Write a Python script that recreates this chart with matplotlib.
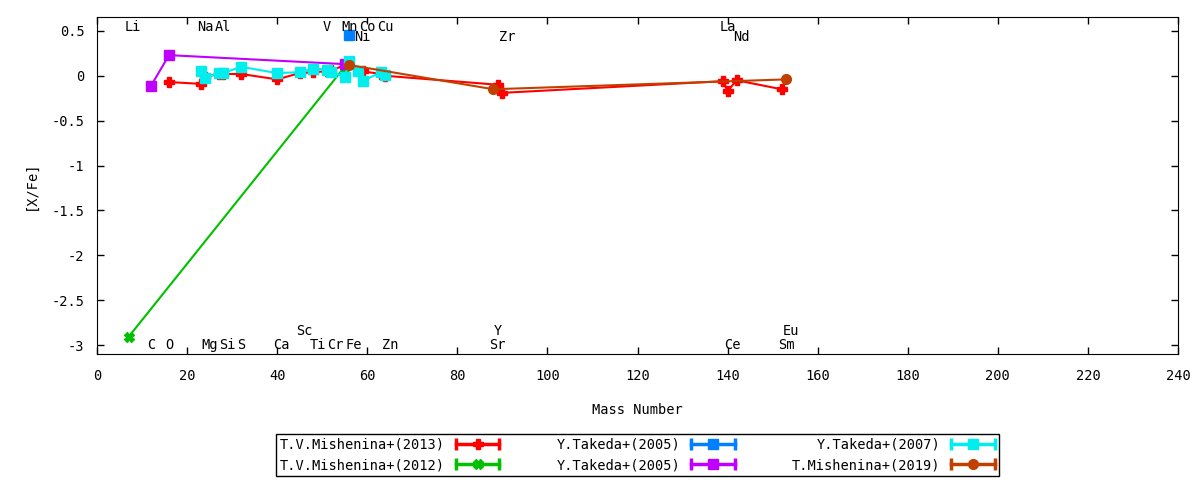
import matplotlib
matplotlib.use("Agg")
import matplotlib.pyplot as plt
from matplotlib.lines import Line2D
from matplotlib.legend_handler import HandlerTuple, HandlerLine2D

plt.rcParams["font.family"] = ["DejaVu Sans Mono"]
plt.rcParams["font.size"] = 9.8

# T.V.Mishenina+(2013)
mish13_A = [16, 23, 24, 27, 28, 32, 40, 45, 48, 51, 52, 55, 59, 63, 64, 89, 90, 139, 140, 142, 152]
mish13_X = [-0.07, -0.09, -0.01, 0.02, 0.02, 0.02, -0.04, 0.03, 0.04, 0.05, 0.07, 0.11,
             0.05, 0.02, 0.00, -0.10, -0.19, -0.06, -0.17, -0.05, -0.15]

# T.V.Mishenina+(2012)
mish12_A = [7, 55]
mish12_X = [-2.91, 0.10]

# Y.Takeda+(2005) blue
tak05a_A = [56]
tak05a_X = [0.46]

# Y.Takeda+(2005) purple
tak05b_A = [12, 16, 55]
tak05b_X = [-0.11, 0.23, 0.13]

# Y.Takeda+(2007)
tak07_A = [23, 24, 27, 28, 32, 40, 45, 48, 51, 52, 55, 56, 58, 59, 63, 64]
tak07_X = [0.05, -0.02, 0.03, 0.03, 0.10, 0.03, 0.04, 0.08, 0.07, 0.04, -0.01, 0.16,
           0.05, -0.06, 0.04, 0.01]

# T.Mishenina+(2019)
mish19_A = [56, 88, 153]
mish19_X = [0.12, -0.15, -0.04]

# element labels
top_names = ["Li", "Na", "Al", "V", "Mn", "Co", "Cu", "La"]
top_mass = [7, 23, 27, 51, 55, 59, 63, 139]
top2_names = ["Ni", "Zr", "Nd"]
top2_mass = [58, 90, 142]
bot_names = ["C", "O", "Mg", "Si", "S", "Ca", "Ti", "Cr", "Fe", "Zn", "Sr", "Ce", "Sm"]
bot_mass = [12, 16, 24, 28, 32, 40, 48, 52, 56, 64, 88, 140, 152]
bot2_names = ["Sc", "Y", "Eu"]
bot2_mass = [45, 89, 153]

series = [
    ("T.V.Mishenina+(2013)", mish13_A, mish13_X, "#ff0000", "P"),
    ("T.V.Mishenina+(2012)", mish12_A, mish12_X, "#00c000", "X"),
    ("Y.Takeda+(2005)", tak05a_A, tak05a_X, "#0080ff", "s"),
    ("Y.Takeda+(2005)", tak05b_A, tak05b_X, "#c000ff", "s"),
    ("Y.Takeda+(2007)", tak07_A, tak07_X, "#00eeee", "s"),
    ("T.Mishenina+(2019)", mish19_A, mish19_X, "#c04000", "o"),
]

fig = plt.figure(figsize=(12, 4.8), dpi=100)
ax = fig.add_axes([97 / 1200, 1 - 354 / 480, (1178 - 97) / 1200, (354 - 17) / 480])

handles = []
labels = []
hmap = {}
for name, a, x, col, mk in series:
    ax.plot(a, x, color=col, lw=1.5, marker=mk, ms=7, mec=col, mfc=col)
    caps = Line2D([], [], color=col, lw=2.5, marker="|", ms=9, mew=2.5)
    mid = Line2D([], [], color=col, lw=0, marker=mk, ms=7)
    hmap[caps] = HandlerLine2D(numpoints=2, marker_pad=0)
    hmap[mid] = HandlerLine2D(numpoints=1)
    handles.append((caps, mid))
    labels.append(name)

def put_labels(names, masses, yv):
    for n, m in zip(names, masses):
        ax.text(m + 1.0 * (len(n) - 1), yv, n, ha="center", va="center")

put_labels(top_names, top_mass, 0.545)
put_labels(top2_names, top2_mass, 0.43)
put_labels(bot_names, bot_mass, -3.0)
put_labels(bot2_names, bot2_mass, -2.84)

ax.set_xlim(0, 240)
ax.set_ylim(-3.1, 0.655)
ax.set_xticks(range(0, 241, 20))
ax.set_yticks([0.5, 0, -0.5, -1, -1.5, -2, -2.5, -3])
ax.set_yticklabels(["0.5", "0", "-0.5", "-1", "-1.5", "-2", "-2.5", "-3"])
ax.tick_params(direction="in", top=True, right=True, length=5, width=1)
ax.tick_params(axis="x", pad=11)
ax.tick_params(axis="y", pad=9)
ax.set_xlabel("Mass Number", labelpad=14)
ax.set_ylabel("[X/Fe]", labelpad=10)

hmap[tuple] = HandlerTuple(ndivide=1, pad=0)
leg = fig.legend(handles, labels, handler_map=hmap, ncol=3, loc="center",
                 bbox_to_anchor=(637.5 / 1200, 1 - 455 / 480), markerfirst=False,
                 frameon=True, fancybox=False, edgecolor="black", framealpha=1,
                 handlelength=3.2, handletextpad=0.8, columnspacing=4.2,
                 labelspacing=0.45, borderpad=0.3, borderaxespad=0)
leg.get_frame().set_linewidth(1)

fig.savefig("out.png", dpi=100)
